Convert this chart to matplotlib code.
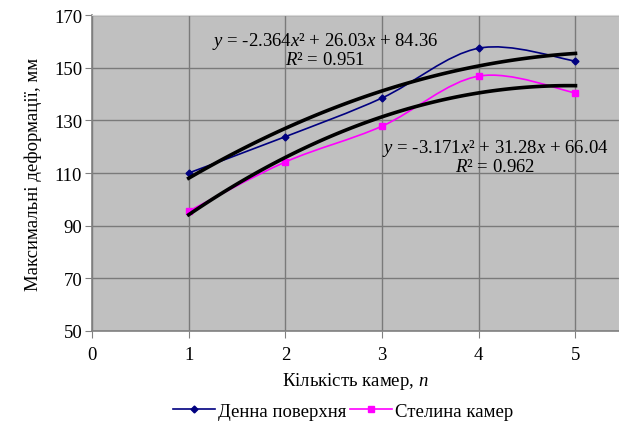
import numpy as np
import matplotlib
matplotlib.use("Agg")
import matplotlib.pyplot as plt
from matplotlib.path import Path
from matplotlib.patches import PathPatch
from matplotlib.lines import Line2D

plt.rcParams["font.family"] = ["Liberation Serif", "DejaVu Serif"]
plt.rcParams["mathtext.fontset"] = "custom"
plt.rcParams["mathtext.rm"] = "Liberation Serif"
plt.rcParams["mathtext.it"] = "Liberation Serif:italic"

# data
n_cameras = [1, 2, 3, 4, 5]
surface = [110.0, 123.8, 138.5, 157.4, 152.5]   # Денна поверхня
ceiling = [95.5, 114.2, 127.8, 146.8, 140.4]    # Стелина камер
surface_fit = [-2.364, 26.03, 84.36]
ceiling_fit = [-3.171, 31.28, 66.04]
series_names = ["Денна поверхня", "Стелина камер"]
y_ticks = [50, 70, 90, 110, 130, 150, 170]
x_ticks = [0, 1, 2, 3, 4, 5]

FS = 13.5


def smooth_path(xs, ys):
    # Excel-style smoothed line: Catmull-Rom segments as cubic Bezier curves
    pts = list(zip(xs, ys))
    verts = [pts[0]]
    codes = [Path.MOVETO]
    for i in range(len(pts) - 1):
        p0 = pts[i - 1] if i > 0 else pts[i]
        p1 = pts[i]
        p2 = pts[i + 1]
        p3 = pts[i + 2] if i + 2 < len(pts) else pts[i + 1]
        c1 = (p1[0] + (p2[0] - p0[0]) / 6, p1[1] + (p2[1] - p0[1]) / 6)
        c2 = (p2[0] - (p3[0] - p1[0]) / 6, p2[1] - (p3[1] - p1[1]) / 6)
        verts += [c1, c2, p2]
        codes += [Path.CURVE4] * 3
    return Path(verts, codes)


fig = plt.figure(figsize=(6.19, 4.27), dpi=100)
ax = fig.add_axes([0.1486, 0.2225, 0.8514, 0.74])
ax.set_facecolor("#c0c0c0")
ax.set_xlim(0, 5.45)
ax.set_ylim(50, 170)
ax.set_xticks(x_ticks)
ax.set_yticks(y_ticks)
ax.grid(True, color="#7a7a7a", linewidth=1.0)
ax.set_axisbelow(True)
for side in ["top", "right"]:
    ax.spines[side].set_color("#d8d8d8")
for side in ["left", "bottom"]:
    ax.spines[side].set_color("#808080")
    ax.spines[side].set_linewidth(1.2)
ax.tick_params(labelsize=FS, length=5, color="#808080")
ax.tick_params(axis="x", pad=6)
ax.tick_params(axis="y", pad=2)

# smoothed data lines
for vals, color in [(surface, "#000080"), (ceiling, "#ff00ff")]:
    ax.add_patch(PathPatch(smooth_path(n_cameras, vals), facecolor="none",
                           edgecolor=color, linewidth=1.2, zorder=3))
ax.plot(n_cameras, surface, linestyle="none", marker="D", markersize=3.5,
        color="#000080", zorder=4)
ax.plot(n_cameras, ceiling, linestyle="none", marker="s", markersize=5,
        color="#ff00ff", zorder=4)

# polynomial trendlines
xt = np.linspace(1, 5, 100)
ax.plot(xt, np.polyval(surface_fit, xt), color="black", linewidth=2.6, zorder=5)
ax.plot(xt, np.polyval(ceiling_fit, xt), color="black", linewidth=2.6, zorder=5)

ax.text(2.41, 157.1, "$y$ = -2.364$x$² + 26.03$x$ + 84.36\n$R$² = 0.951",
        ha="center", va="center", fontsize=FS, linespacing=1.0, zorder=6)
ax.text(4.17, 116.6, "$y$ = -3.171$x$² + 31.28$x$ + 66.04\n$R$² = 0.962",
        ha="center", va="center", fontsize=FS, linespacing=1.0, zorder=6)

ax.set_ylabel("Максимальні деформації, мм", fontsize=FS, labelpad=9)
ax.set_xlabel("Кількість камер, $n$", fontsize=FS, labelpad=5)

handles = [
    Line2D([], [], color="#000080", marker="D", markersize=3.5, linewidth=1.2),
    Line2D([], [], color="#ff00ff", marker="s", markersize=5, linewidth=1.2),
]
fig.legend(handles, series_names, loc="center", bbox_to_anchor=(0.555, 0.035),
           ncol=2, frameon=False, fontsize=FS, handlelength=2.2,
           handletextpad=0.2, columnspacing=0.2)

fig.savefig("out.png", dpi=100)
